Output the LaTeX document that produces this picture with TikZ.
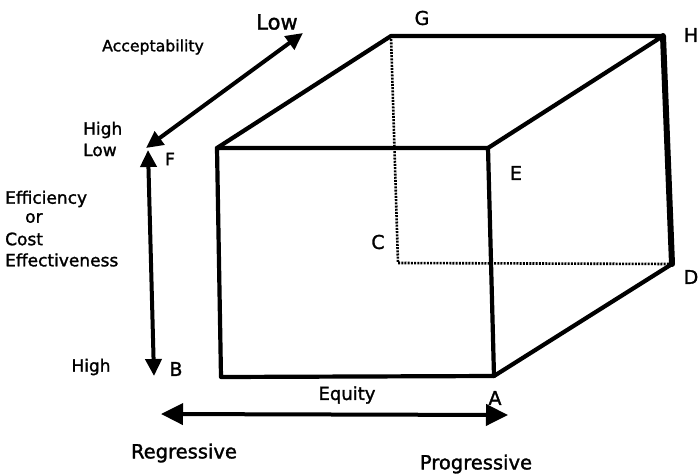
\documentclass[tikz,border=0pt]{standalone}
\usepackage{fontspec}
\setmainfont{DejaVu Sans}[FakeBold=1.5]
\usetikzlibrary{arrows.meta}
\begin{document}
\begin{tikzpicture}[x=1pt,y=-1pt,
  edge/.style={line width=4.2pt, line cap=round, line join=round},
  hidden/.style={line width=2.6pt, dash pattern=on 2pt off 1.2pt},
  axis/.style={line width=4pt, {Triangle[length=17pt,width=16pt]}-{Triangle[length=17pt,width=16pt]}},
  bigaxis/.style={line width=4pt, {Triangle[length=22pt,width=21pt]}-{Triangle[length=22pt,width=21pt]}},
  lbl/.style={inner sep=0pt, font=\fontsize{17}{20}\selectfont},
  corner/.style={inner sep=0pt, font=\fontsize{19}{22}\selectfont}]
\useasboundingbox (0,0) rectangle (699,475);
\fill[white] (0,0) rectangle (699,475);
% cube corners
\coordinate (TL) at (217,148);
\coordinate (TR) at (488,148);
\coordinate (BL) at (221,377);
\coordinate (A) at (494,376);
\coordinate (G) at (391,36);
\coordinate (H) at (663,36);
\coordinate (D) at (672,264);
\coordinate (C) at (398,263);
% hidden edges
\draw[hidden] (G) -- (C) -- (D);
% visible edges
\draw[edge] (TL) -- (TR) -- (A) -- (BL) -- cycle;
\draw[edge] (TL) -- (G) -- (H) -- (TR);
\draw[edge] (A) -- (D);
\draw[line width=6pt, line cap=round] (H) -- (D);
% axes
\coordinate (accLow) at (303,33);
\coordinate (accHigh) at (146,148);
\draw[axis] (accHigh) -- (accLow);
\coordinate (effTop) at (148,150);
\coordinate (effBot) at (154,376);
\draw[axis] (effTop) -- (effBot);
\coordinate (eqL) at (161,414);
\coordinate (eqR) at (508,415);
\draw[bigaxis] (eqL) -- (eqR);
% labels
\node[inner sep=0pt, font=\fontsize{21}{24}\selectfont] (lowtop) at (277,22) {Low};
\node[inner sep=0pt, font=\fontsize{15.7}{18}\selectfont] (acc) at (153,47) {Acceptability};
\node[lbl, anchor=west] (hightop) at (83,130) {High};
\node[lbl, anchor=west] (lowleft) at (83,150) {Low};
\node[lbl, anchor=west] (eff1) at (5,199) {Efficiency};
\node[lbl, anchor=west] (eff2) at (25,218) {or};
\node[lbl, anchor=west] (eff3) at (5,239) {Cost};
\node[lbl, anchor=west] (eff4) at (5,260) {Effectiveness};
\node[lbl] (highbot) at (91,367) {High};
\node[inner sep=0pt, font=\fontsize{18}{21}\selectfont] (equity) at (347,395) {Equity};
\node[inner sep=0pt, font=\fontsize{19.5}{22}\selectfont] (regr) at (184,453) {Regressive};
\node[inner sep=0pt, font=\fontsize{19.5}{22}\selectfont] (progr) at (476,464) {Progressive};
\node[corner, font=\fontsize{17}{20}\selectfont] (labF) at (170,159) {F};
\node[corner] (labB) at (176,369) {B};
\node[corner] (labA) at (495,398) {A};
\node[corner] (labC) at (378,242) {C};
\node[corner] (labD) at (691,277) {D};
\node[corner] (labH) at (691,35) {H};
\node[corner] (labG) at (422,18) {G};
\node[corner] (labE) at (516,173) {E};
\end{tikzpicture}
\end{document}
